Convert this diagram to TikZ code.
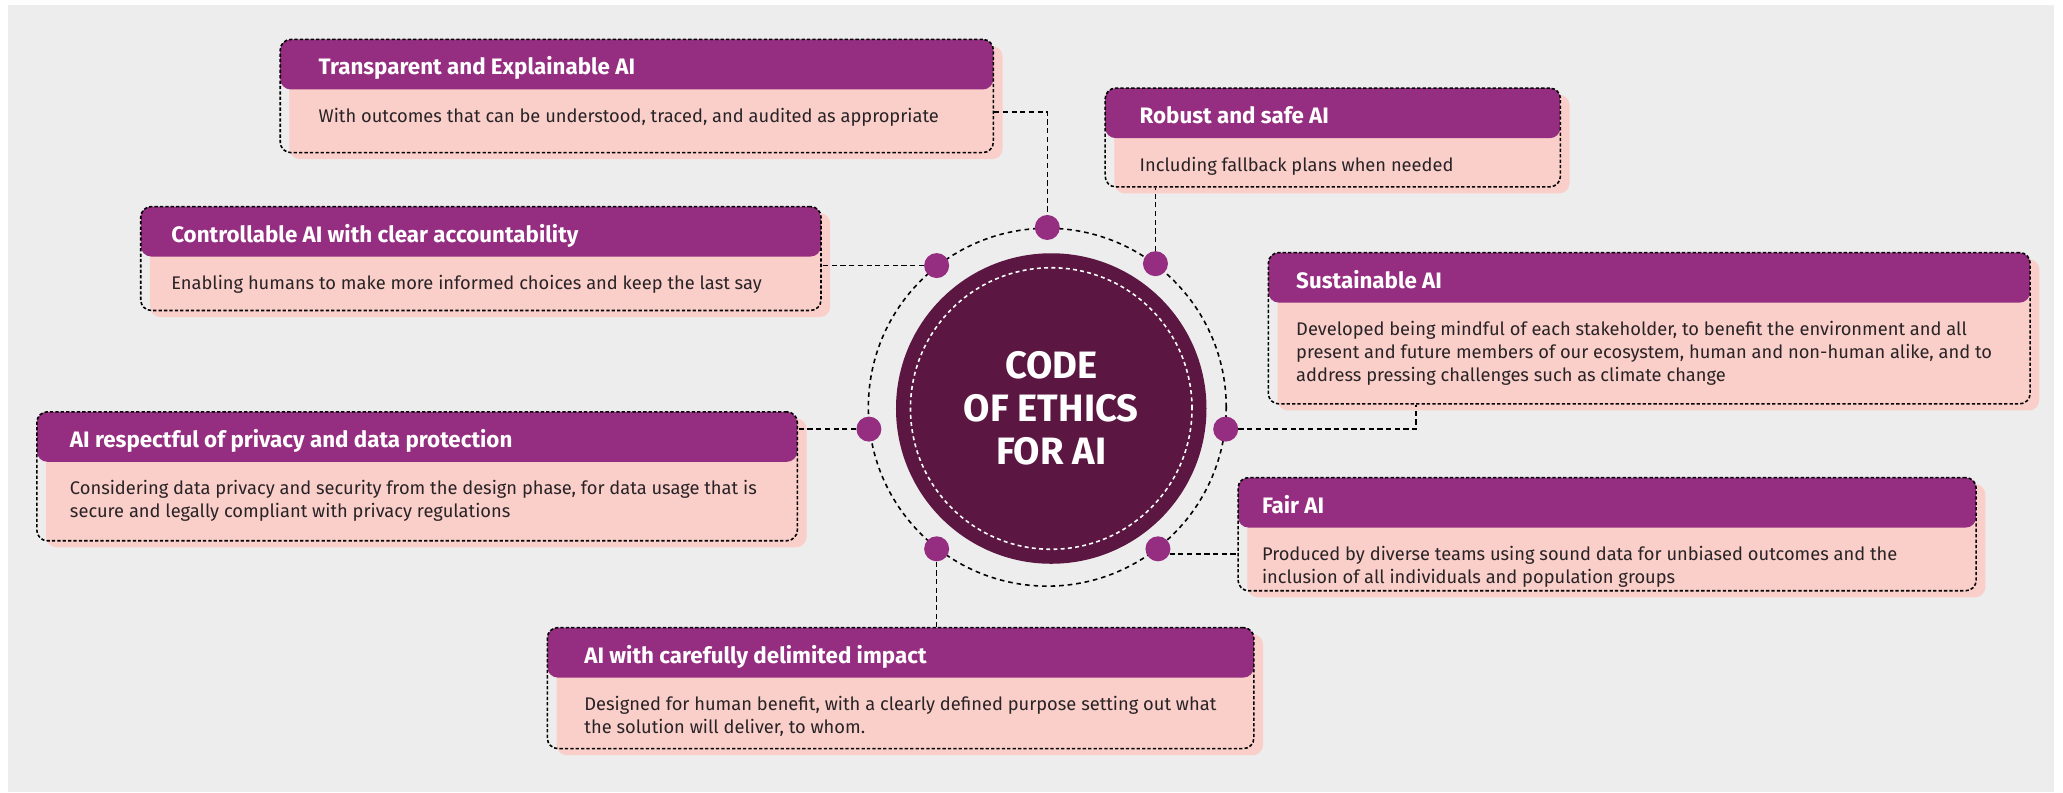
\documentclass[tikz,border=0pt]{standalone}
\usepackage{fontspec}
\setmainfont{Fira Sans}
\usetikzlibrary{positioning,shadows}
\definecolor{bggray}{RGB}{237,237,237}
\definecolor{hdrpurple}{RGB}{149,45,128}
\definecolor{cardpink}{RGB}{250,206,201}
\definecolor{corepurple}{RGB}{91,23,66}
\definecolor{bodyink}{RGB}{40,35,38}

\begin{document}
\begin{tikzpicture}[x=1pt, y=1pt,
  card/.style={draw, line width=1.2pt, dash pattern=on 2.5pt off 1.6pt, rounded corners=8pt, inner sep=0pt,
    drop shadow={shadow xshift=7pt, shadow yshift=-5pt, fill=cardpink, opacity=1},
    path picture={\fill[hdrpurple] (path picture bounding box.north west) rectangle ([yshift=-38pt]path picture bounding box.north east);}},
  hdrtext/.style={anchor=base west, inner sep=0pt, text=white, font=\fontsize{17}{20}\selectfont\bfseries},
  bodytext/.style={anchor=north west, inner sep=0pt, align=left, text=bodyink, font=\fontsize{13.9}{17.5}\selectfont},
  core/.style={circle, fill=corepurple, minimum size=236pt, inner sep=0pt, align=center, text=white, font=\fontsize{29}{32.5}\selectfont\bfseries},
  ring/.style={circle, draw, line width=1.2pt, dash pattern=on 3.5pt off 3pt, minimum size=272pt, inner sep=0pt},
  dot/.style={circle, fill=hdrpurple, minimum size=19pt, inner sep=0pt},
  link/.style={line width=1.2pt, dash pattern=on 4pt off 2.6pt}
]

\useasboundingbox (0,0) rectangle (1568,602);
\fill[bggray] (6,0) rectangle (1561,598.2);

% cards
\node[card, minimum width=542pt, minimum height=86pt] (transp) at (484,529) {};
\node[hdrtext] (transpT) at (242,545) {Transparent and Explainable AI};
\node[bodytext] (transpB) at (242,520) {With outcomes that can be understood, traced, and audited as appropriate};

\node[card, minimum width=346pt, minimum height=75pt] (robust) at (1013,497.5) {};
\node[hdrtext] (robustT) at (866,508) {Robust and safe AI};
\node[bodytext] (robustB) at (866,483) {Including fallback plans when needed};

\node[card, minimum width=517pt, minimum height=79pt] (ctrl) at (365.5,405.5) {};
\node[hdrtext] (ctrlT) at (130,418) {Controllable AI with clear accountability};
\node[bodytext] (ctrlB) at (130,393) {Enabling humans to make more informed choices and keep the last say};

\node[card, minimum width=579pt, minimum height=115pt] (sustain) at (1253.5,352.5) {};
\node[hdrtext] (sustainT) at (985,383) {Sustainable AI};
\node[bodytext] (sustainB) at (985,358) {Developed being mindful of each stakeholder, to benefit the environment and all\\present and future members of our ecosystem, human and non-human alike, and to\\address pressing challenges such as climate change};

\node[card, minimum width=578pt, minimum height=98pt] (privacy) at (317,240) {};
\node[hdrtext] (privacyT) at (53,262) {AI respectful of privacy and data protection};
\node[bodytext] (privacyB) at (53,237) {Considering data privacy and security from the design phase, for data usage that is\\secure and legally compliant with privacy regulations};

\node[card, minimum width=561pt, minimum height=86pt] (fair) at (1221.5,196) {};
\node[hdrtext] (fairT) at (959,212) {Fair AI};
\node[bodytext] (fairB) at (959,187) {Produced by diverse teams using sound data for unbiased outcomes and the\\inclusion of all individuals and population groups};

\node[card, minimum width=537pt, minimum height=92pt] (impact) at (684.5,79) {};
\node[hdrtext] (impactT) at (444,98) {AI with carefully delimited impact};
\node[bodytext] (impactB) at (444,73) {Designed for human benefit, with a clearly defined purpose setting out what\\the solution will deliver, to whom.};

% centre
\node[core] (core) at (799,291.5) {CODE\\OF ETHICS\\FOR AI};
\draw[white, line width=1.2pt, dash pattern=on 3pt off 2.5pt] (core.center) circle (107);
\node[ring] (ring) at (796,292.5) {};

\node[dot] (dtop) at (ring.90) {};
\node[dot] (dtl) at (ring.128) {};
\node[dot] (dtr) at (ring.53) {};
\node[dot] (dl) at (ring.187) {};
\node[dot] (dr) at (ring.353) {};
\node[dot] (dbl) at (ring.232) {};
\node[dot] (dbr) at (ring.308) {};

% connectors
\draw[link] ([yshift=-12]transp.east) -| (dtop);
\draw[link] (dtr) -- (dtr |- robust.south);
\draw[link] (dtl) -- (dtl -| ctrl.east);
\draw[link] (dr) -| ([xshift=113]sustain.south west);
\draw[link] (dl) -- (dl -| privacy.east);
\draw[link] (dbr.-25) -- (dbr.-25 -| fair.west);
\draw[link] (dbl) -- (dbl |- impact.north);

\end{tikzpicture}
\end{document}
